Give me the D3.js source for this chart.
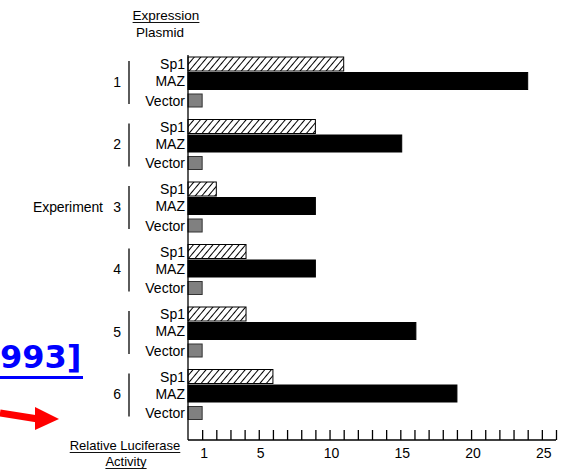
<!DOCTYPE html>
<html>
<head>
<meta charset="utf-8">
<script src="https://cdn.jsdelivr.net/npm/d3@7"></script>
<style>
  body { margin: 0; background: #fff; }
  svg { display: block; font-family: "Liberation Sans", Arial, sans-serif; }
</style>
</head>
<body>
<svg id="chart" width="562" height="472"></svg>
<script>
// data
var experiments = ["1", "2", "3", "4", "5", "6"];
var plasmids = ["Sp1", "MAZ", "Vector"];
var sp1 = [11, 9, 2, 4.1, 4.1, 6];
var maz = [24, 15.1, 9, 9, 16.1, 19];
var vector = [1, 1, 1, 1, 1, 1];
var tickVals = d3.range(1, 27);
var tickLabels = [1, 5, 10, 15, 20, 25];

var svg = d3.select("#chart");

var x = d3.scaleLinear().domain([0, 26]).range([188, 556]);
var y = d3.scaleBand().domain(experiments).range([57, 432]);

// offsets of the 3 bars inside a group (top, height)
var rows = {
  Sp1: { off: 0, h: 14 },
  MAZ: { off: 15.5, h: 17 },
  Vector: { off: 37, h: 13 }
};

// hatch for Sp1
var defs = svg.append("defs");
var pat = defs.append("pattern")
  .attr("id", "hatch")
  .attr("patternUnits", "userSpaceOnUse")
  .attr("width", 5).attr("height", 5)
  .attr("patternTransform", "rotate(40)");
pat.append("rect").attr("width", 5).attr("height", 5).attr("fill", "#fff");
pat.append("line").attr("x1", 0).attr("y1", 0).attr("x2", 0).attr("y2", 5)
  .attr("stroke", "#000").attr("stroke-width", 2);

var rowsData = [];
experiments.forEach(function (e, i) {
  rowsData.push({ exp: e, p: "Sp1", v: sp1[i] });
  rowsData.push({ exp: e, p: "MAZ", v: maz[i] });
  rowsData.push({ exp: e, p: "Vector", v: vector[i] });
});

var fills = { Sp1: "url(#hatch)", MAZ: "#000", Vector: "#808080" };

svg.append("g").selectAll("rect")
  .data(rowsData)
  .enter().append("rect")
  .attr("x", x(0))
  .attr("y", d => y(d.exp) + rows[d.p].off)
  .attr("width", d => x(d.v) - x(0))
  .attr("height", d => rows[d.p].h)
  .attr("fill", d => fills[d.p])
  .attr("stroke", d => d.p == "Vector" ? "#333" : "#000")
  .attr("stroke-width", 1);

// plasmid labels
svg.append("g").selectAll("text")
  .data(rowsData)
  .enter().append("text")
  .attr("x", 185)
  .attr("y", d => y(d.exp) + rows[d.p].off + rows[d.p].h / 2 + 5)
  .attr("text-anchor", "end")
  .attr("font-size", 14)
  .attr("fill", "#000")
  .text(d => d.p);

// experiment numbers and brackets
var grp = svg.append("g").selectAll("g")
  .data(experiments)
  .enter().append("g");
grp.append("text")
  .attr("x", 121)
  .attr("y", d => y(d) + 29.5)
  .attr("text-anchor", "end")
  .attr("font-size", 14)
  .attr("fill", "#000")
  .text(d => d);
grp.append("line")
  .attr("x1", 129).attr("x2", 129)
  .attr("y1", d => y(d) + 4)
  .attr("y2", d => y(d) + 47)
  .attr("stroke", "#333").attr("stroke-width", 1.6);

svg.append("text")
  .attr("x", 33).attr("y", y("3") + 29.5)
  .attr("font-size", 14).attr("fill", "#000")
  .attr("textLength", 70)
  .text("Experiment");

// axes
svg.append("line")
  .attr("x1", x(0)).attr("x2", x(0))
  .attr("y1", 55).attr("y2", 440)
  .attr("stroke", "#000").attr("stroke-width", 1.3);

var xAxis = d3.axisTop(x)
  .tickValues(tickVals)
  .tickSize(10)
  .tickFormat("");
var ax = svg.append("g")
  .attr("transform", "translate(0,440)")
  .call(xAxis);
ax.select(".domain").attr("stroke", "#000").attr("stroke-width", 1.3)
  .attr("d", "M" + x(0) + ",0H" + x(26));
ax.selectAll(".tick line").attr("stroke", "#000").attr("stroke-width", 1.3);

svg.append("g").selectAll("text")
  .data(tickLabels)
  .enter().append("text")
  .attr("x", d => x(d) + 2)
  .attr("y", 458)
  .attr("text-anchor", "middle")
  .attr("font-size", 14)
  .attr("fill", "#000")
  .text(d => d);

// headers, underlined
function underlined(txt, cx, by, size, under) {
  var t = svg.append("text")
    .attr("x", cx).attr("y", by)
    .attr("text-anchor", "middle")
    .attr("font-size", size)
    .attr("fill", "#000")
    .text(txt);
  if (under) {
    var w = t.node().getComputedTextLength();
    svg.append("line")
      .attr("x1", cx - w / 2).attr("x2", cx + w / 2)
      .attr("y1", by + 2.5).attr("y2", by + 2.5)
      .attr("stroke", "#111").attr("stroke-width", 1.2);
  }
}
underlined("Expression", 166, 20, 13.5, true);
underlined("Plasmid", 160, 37, 13.5, false);
underlined("Relative Luciferase", 125, 450, 13, true);
underlined("Activity", 126, 466, 13, true);

// stray bits from the page around the figure
svg.append("text")
  .attr("x", 0).attr("y", 368)
  .attr("font-family", "DejaVu Sans")
  .attr("font-weight", "bold")
  .attr("font-size", 32)
  .attr("fill", "#0000ff")
  .text("993]");
svg.append("rect")
  .attr("x", 0).attr("y", 376).attr("width", 83).attr("height", 3)
  .attr("fill", "#0000ff");

svg.append("line")
  .attr("x1", 0).attr("y1", 413).attr("x2", 38).attr("y2", 419)
  .attr("stroke", "#ff0000").attr("stroke-width", 7);
svg.append("path")
  .attr("d", "M35,407 L59,419 L35,430 Z")
  .attr("fill", "#ff0000");
</script>
</body>
</html>
